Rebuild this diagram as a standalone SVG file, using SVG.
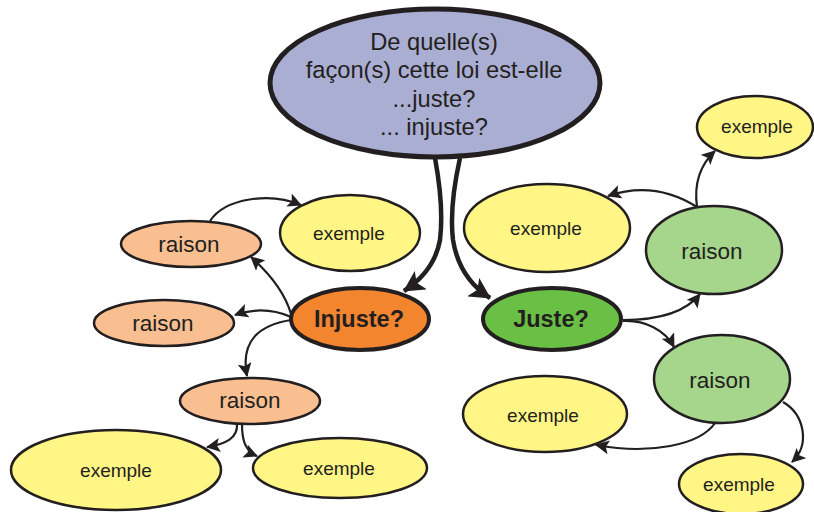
<svg xmlns="http://www.w3.org/2000/svg" width="814" height="512" viewBox="0 0 814 512">
<style>
.n{stroke:#231f20;stroke-width:2.5}
.yel{fill:#fff685}
.peach{fill:#f9bf91}
.lg{fill:#a6d58c}
text{font-family:"Liberation Sans",Arial,sans-serif;fill:#231f20;text-anchor:middle}
.ex{font-size:19px}
.ra{font-size:22.5px}
.big{font-size:23.5px;font-weight:bold}
.q{font-size:23.7px}
.c{stroke:#231f20;fill:none;stroke-width:2.2}
.ct{stroke:#231f20;fill:none;stroke-width:4.5}
</style>
<defs>
<marker id="a" markerUnits="userSpaceOnUse" markerWidth="16" markerHeight="14" refX="13" refY="7" orient="auto">
<path d="M0,0 L14,7 L0,14 L3,7 Z" fill="#231f20"/>
</marker>
<marker id="A" markerUnits="userSpaceOnUse" markerWidth="24" markerHeight="22" refX="20" refY="11" orient="auto">
<path d="M0,0 L21,11 L0,22 L5,11 Z" fill="#231f20"/>
</marker>
</defs>
<g id="connectors">
<path class="ct" d="M435,158 C440,185 443,215 440,240 C436,262 424,278 404,291" marker-end="url(#A)"/>
<path class="ct" d="M460,158 C454,185 450,215 453,240 C457,265 470,285 490,298" marker-end="url(#A)"/>
<path class="c" d="M291,314 C285,293 270,274 251,257" marker-end="url(#a)"/>
<path class="c" d="M210,221 C225,198 270,192 301,205" marker-end="url(#a)"/>
<path class="c" d="M291,317 C275,310 255,308 235,315" marker-end="url(#a)"/>
<path class="c" d="M291,320 C260,325 240,340 247,376" marker-end="url(#a)"/>
<path class="c" d="M237,424 C238,438 226,444 207,447" marker-end="url(#a)"/>
<path class="c" d="M242,424 C242,440 245,451 257,456" marker-end="url(#a)"/>
<path class="c" d="M623,320 C660,320 686,312 700,294" marker-end="url(#a)"/>
<path class="c" d="M623,321 C645,320 665,330 674,347" marker-end="url(#a)"/>
<path class="c" d="M697,207 C694,185 700,165 715,151" marker-end="url(#a)"/>
<path class="c" d="M697,207 C670,190 640,185 608,196" marker-end="url(#a)"/>
<path class="c" d="M715,423 C700,445 650,455 596,445" marker-end="url(#a)"/>
<path class="c" d="M783,402 C805,415 810,445 792,462" marker-end="url(#a)"/>
</g>
<g id="question">
<ellipse cx="435" cy="83" rx="165" ry="74" fill="#abaed3" stroke="#231f20" stroke-width="5"/>
<text class="q" x="434" y="50">De quelle(s)</text>
<text class="q" x="434" y="78">façon(s) cette loi est-elle</text>
<text class="q" x="434" y="107">...juste?</text>
<text class="q" x="434" y="135">... injuste?</text>
</g>
<g id="injuste">
<ellipse cx="360" cy="319" rx="69" ry="31" fill="#f4852f" stroke="#231f20" stroke-width="4"/>
<text class="big" x="359" y="327">Injuste?</text>
</g>
<g id="juste">
<ellipse cx="552" cy="319" rx="69" ry="31" fill="#6abf45" stroke="#231f20" stroke-width="4"/>
<text class="big" x="551" y="327">Juste?</text>
</g>
<g id="raison-l1">
<ellipse class="n peach" cx="191" cy="244" rx="70" ry="23"/>
<text class="ra" x="189" y="252">raison</text>
</g>
<g id="raison-l2">
<ellipse class="n peach" cx="164" cy="323" rx="70" ry="23"/>
<text class="ra" x="163" y="331">raison</text>
</g>
<g id="raison-l3">
<ellipse class="n peach" cx="250" cy="401" rx="70" ry="23"/>
<text class="ra" x="250" y="408">raison</text>
</g>
<g id="exemple-l1">
<ellipse class="n yel" cx="350" cy="233" rx="70" ry="38"/>
<text class="ex" x="349" y="240">exemple</text>
</g>
<g id="exemple-l2">
<ellipse class="n yel" cx="116" cy="470" rx="105" ry="40"/>
<text class="ex" x="116" y="477">exemple</text>
</g>
<g id="exemple-l3">
<ellipse class="n yel" cx="340" cy="468" rx="87" ry="30"/>
<text class="ex" x="339" y="475">exemple</text>
</g>
<g id="raison-r1">
<ellipse class="n lg" cx="714" cy="250" rx="68" ry="44"/>
<text class="ra" x="712" y="259">raison</text>
</g>
<g id="raison-r2">
<ellipse class="n lg" cx="722" cy="379" rx="68" ry="44"/>
<text class="ra" x="720" y="388">raison</text>
</g>
<g id="exemple-r1">
<ellipse class="n yel" cx="755" cy="127" rx="58" ry="31"/>
<text class="ex" x="757" y="133">exemple</text>
</g>
<g id="exemple-r2">
<ellipse class="n yel" cx="547" cy="228" rx="83" ry="44"/>
<text class="ex" x="546" y="235">exemple</text>
</g>
<g id="exemple-r3">
<ellipse class="n yel" cx="545" cy="414" rx="82" ry="38"/>
<text class="ex" x="543" y="422">exemple</text>
</g>
<g id="exemple-r4">
<ellipse class="n yel" cx="741" cy="484" rx="62" ry="30"/>
<text class="ex" x="739" y="491">exemple</text>
</g>
</svg>
